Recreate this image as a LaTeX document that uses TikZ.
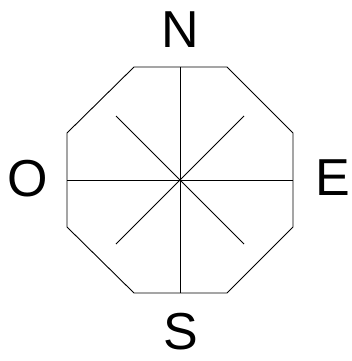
\documentclass[tikz,border=0pt]{standalone}
\usepackage{fontspec}
\setmainfont{Liberation Sans}
\begin{document}
\begin{tikzpicture}[x=1pt,y=-1pt,
  edge/.style={draw=black,line width=0.9pt},
  letter/.style={anchor=base,inner sep=0pt,font=\fontsize{52}{52}\selectfont}]
\useasboundingbox (0,0) rectangle (352,361);
% octagon corners
\coordinate (p1) at (134,67);
\coordinate (p2) at (227,67);
\coordinate (p3) at (293,133);
\coordinate (p4) at (293,227);
\coordinate (p5) at (227,293);
\coordinate (p6) at (134,293);
\coordinate (p7) at (67,227);
\coordinate (p8) at (67,133);
% spoke ends
\coordinate (c) at (180,180);
\coordinate (tn) at (180,67);
\coordinate (ts) at (180,293);
\coordinate (tw) at (67,180);
\coordinate (te) at (293,180);
\coordinate (dnw) at (116,116);
\coordinate (dne) at (244,116);
\coordinate (dsw) at (116,244);
\coordinate (dse) at (244,244);
\draw[edge] (p1) -- (p2) -- (p3) -- (p4) -- (p5) -- (p6) -- (p7) -- (p8) -- cycle;
\draw[edge] (tn) -- (ts);
\draw[edge] (tw) -- (te);
\draw[edge] (dnw) -- (dse);
\draw[edge] (dne) -- (dsw);
\node[letter] (N) at (180,48) {N};
\node[letter] (O) at (28,196) {O};
\node[letter] (E) at (333,195) {E};
\node[letter] (S) at (181,349) {S};
\end{tikzpicture}
\end{document}
